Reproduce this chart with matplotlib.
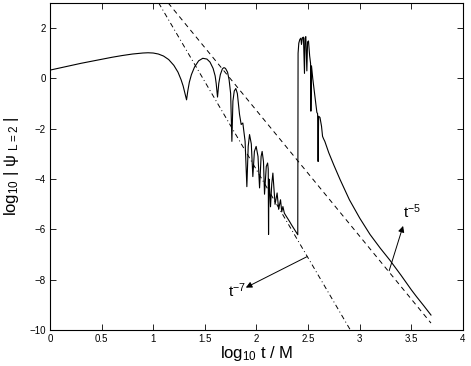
import matplotlib
matplotlib.use("Agg")
import matplotlib.pyplot as plt

plt.rcParams['font.family'] = ['Liberation Sans', 'DejaVu Sans']
plt.rcParams['mathtext.fontset'] = 'custom'
plt.rcParams['mathtext.rm'] = 'Liberation Sans'
plt.rcParams['mathtext.it'] = 'Liberation Sans:italic'

# Solid curve: log10|psi_L=2| vs log10 t/M
solid_x = [0.00, 0.10, 0.20, 0.30, 0.40, 0.50, 0.60, 0.70, 0.80, 0.90, 0.95, 1.00,
           1.05, 1.10, 1.15, 1.20, 1.24, 1.27, 1.29, 1.305, 1.323, 1.335, 1.35, 1.37,
           1.40, 1.44, 1.48, 1.52, 1.55, 1.58, 1.60, 1.61, 1.623, 1.635, 1.65, 1.67,
           1.685, 1.70, 1.72, 1.735, 1.75, 1.762, 1.772, 1.785, 1.80, 1.815, 1.836,
           1.852, 1.868, 1.89, 1.907, 1.92, 1.933, 1.95, 1.965, 1.98, 1.997, 2.015,
           2.03, 2.045, 2.055, 2.068, 2.078, 2.095, 2.108, 2.114, 2.117, 2.121, 2.128,
           2.136, 2.148, 2.159, 2.18, 2.20, 2.215, 2.233, 2.245, 2.256, 2.27, 2.28,
           2.30, 2.32, 2.34, 2.36, 2.38, 2.40, 2.403, 2.41, 2.42, 2.43, 2.436, 2.445,
           2.455, 2.465, 2.47, 2.478, 2.488, 2.495, 2.504, 2.515, 2.524, 2.527, 2.533,
           2.545, 2.56, 2.572, 2.585, 2.592, 2.597, 2.602, 2.615, 2.63, 2.64, 2.65,
           2.662, 2.70, 2.75, 2.81, 2.90, 3.00, 3.10, 3.20, 3.29, 3.40, 3.50, 3.55,
           3.62, 3.69]
solid_y = [0.33, 0.42, 0.51, 0.60, 0.68, 0.76, 0.84, 0.91, 0.97, 1.01, 1.02, 1.01,
           0.97, 0.89, 0.75, 0.52, 0.25, -0.05, -0.30, -0.55, -0.85, -0.50, -0.15, 0.15,
           0.45, 0.70, 0.80, 0.77, 0.65, 0.40, 0.10, -0.20, -0.74, -0.20, 0.15, 0.38,
           0.43, 0.40, 0.25, -0.05, -0.60, -2.50, -0.90, -0.50, -0.40, -0.60, -1.43,
           -1.83, -1.77, -2.50, -4.30, -2.70, -2.23, -2.60, -3.90, -2.90, -2.70, -3.10,
           -4.35, -3.10, -2.90, -3.30, -4.60, -3.50, -3.36, -3.60, -6.20, -4.00, -4.40,
           -5.10, -4.20, -3.76, -5.00, -4.55, -5.20, -4.82, -5.30, -5.09, -5.35, -5.42,
           -5.55, -5.68, -5.82, -5.95, -6.08, -6.21, 1.00, 1.40, 1.55, 1.60, 1.35, 1.62,
           1.64, 0.20, 1.60, 1.66, 0.30, 1.45, 1.49, 0.90, 0.60, -1.30, 0.50,
           0.00, -0.50, -0.90, -1.35, -1.40, -3.30, -1.50, -1.55, -1.90, -2.30, -2.40,
           -2.50, -2.95, -3.45, -4.02, -4.82, -5.55, -6.20, -6.75, -7.21, -7.82, -8.40,
           -8.67, -9.03, -9.40]

# Power-law guide lines (endpoints)
t5_x = [1.145, 3.69]
t5_y = [3.0, -9.72]
t7_x = [1.053, 2.91]
t7_y = [3.0, -10.0]

xticks = [0, 0.5, 1, 1.5, 2, 2.5, 3, 3.5, 4]
xticklabels = ['0', '0.5', '1', '1.5', '2', '2.5', '3', '3.5', '4']
yticks = [-10, -8, -6, -4, -2, 0, 2]

fig = plt.figure(figsize=(4.71, 3.66), dpi=100)
ax = fig.add_axes([0.106, 0.098, 0.877, 0.894])

ax.plot(solid_x, solid_y, color='k', lw=0.8)
ax.plot(t5_x, t5_y, color='k', lw=0.7, linestyle=(0, (5, 4)))
ax.plot(t7_x, t7_y, color='k', lw=0.7, linestyle=(0, (5, 3, 1, 3)))

ax.set_xlim(0, 4)
ax.set_ylim(-10, 3)
ax.set_xticks(xticks)
ax.set_xticklabels(xticklabels)
ax.set_yticks(yticks)
ax.tick_params(direction='in', length=4, width=0.6, labelsize=7,
               top=True, right=True, pad=3)
for s in ax.spines.values():
    s.set_linewidth(0.8)

ax.set_xlabel(r'log$_{10}$ t / M', fontsize=12, labelpad=0)
ax.set_ylabel(r'log$_{10}$ | ψ $_{\mathrm{L=2}}$ |', fontsize=12, labelpad=6)

arrow = dict(arrowstyle='-|>', color='k', lw=0.7, mutation_scale=9,
             shrinkA=0, shrinkB=0)
ax.annotate('', xy=(3.42, -5.86), xytext=(3.285, -7.64), arrowprops=arrow)
ax.annotate('', xy=(1.897, -8.31), xytext=(2.49, -7.08), arrowprops=arrow)
ax.text(3.417, -5.54, r't$^{-5}$', fontsize=11, ha='left', va='baseline')
ax.text(1.723, -8.69, r't$^{-7}$', fontsize=11, ha='left', va='baseline')

fig.savefig('out.png', dpi=100)
